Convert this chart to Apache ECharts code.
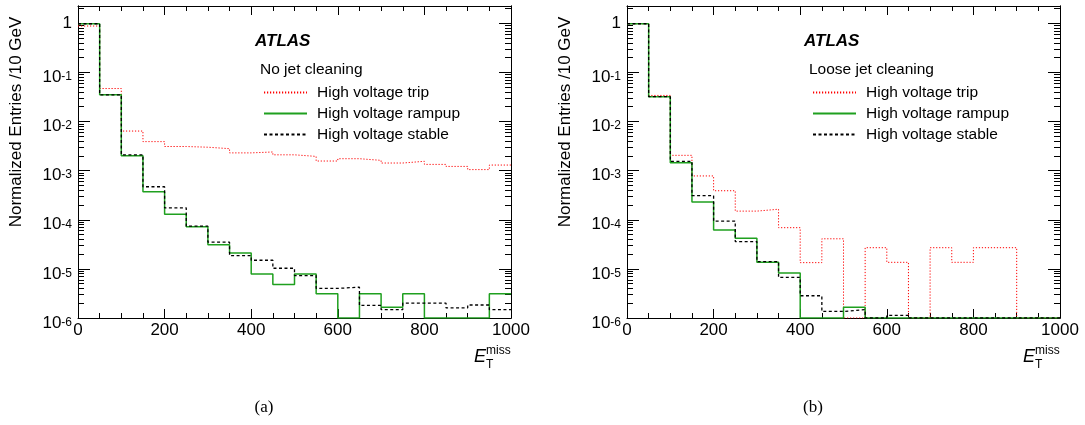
<!DOCTYPE html>
<html>
<head>
<meta charset="utf-8">
<script src="https://cdn.jsdelivr.net/npm/echarts@6/dist/echarts.min.js"></script>
<style>
html,body{margin:0;padding:0;background:#fff;}
#chart{width:1085px;height:425px;}
</style>
</head>
<body>
<div id="chart"></div>
<script>
// ---------------- data ----------------
const binEdges = [0, 50, 100, 150, 200, 250, 300, 350, 400, 450, 500, 550, 600, 650, 700, 750, 800, 850, 900, 950];
const xMax = 1000;
const seriesNames = ['High voltage trip', 'High voltage rampup', 'High voltage stable'];

// (a) No jet cleaning
const tripA = [0.88, 0.047, 0.0064, 0.0039, 0.0031, 0.0030, 0.0028, 0.0023, 0.0024, 0.0021,
               0.00195, 0.00157, 0.00175, 0.00162, 0.00143, 0.00155, 0.00134, 0.00122, 0.00105, 0.0013];
const rampA = [0.98, 0.035, 0.0020, 0.00037, 0.00013, 7.2e-5, 3.1e-5, 2.1e-5, 7.9e-6, 4.8e-6,
               7.9e-6, 3.1e-6, 0, 3.1e-6, 1.65e-6, 3.1e-6, 0, 0, 0, 3.1e-6];
const stableA = [0.98, 0.035, 0.0021, 0.00047, 0.000175, 7.4e-5, 3.5e-5, 1.86e-5, 1.5e-5, 1.03e-5,
                 7.3e-6, 4.0e-6, 4.25e-6, 1.8e-6, 1.48e-6, 2.0e-6, 2.0e-6, 1.6e-6, 1.84e-6, 1.48e-6];

// (b) Loose jet cleaning
const tripB = [0.98, 0.034, 0.00205, 0.00078, 0.00039, 0.00015, 0.000164, 6.9e-5, 1.34e-5, 4.1e-5,
               0, 2.7e-5, 1.36e-5, 0, 2.7e-5, 1.36e-5, 2.7e-5, 2.7e-5, 0, 0];
const rampB = [0.98, 0.032, 0.00145, 0.00023, 6.2e-5, 4.2e-5, 1.37e-5, 8.2e-6, 0, 0,
               1.65e-6, 0, 0, 0, 0, 0, 0, 0, 0, 0];
const stableB = [0.98, 0.032, 0.00155, 0.00031, 9.4e-5, 3.6e-5, 1.41e-5, 6.7e-6, 2.84e-6, 1.36e-6,
                 1.48e-6, 0, 1.13e-6, 0, 0, 0, 0, 0, 0, 0];

const panelLabels = ['No jet cleaning', 'Loose jet cleaning'];
const captions = ['(a)', '(b)'];
const yDecadeExponents = [-6, -5, -4, -3, -2, -1, 0];
const minorMultipliers = [2, 3, 4, 5, 6, 7, 8, 9];
const yMin = 1e-6;
const yMax = 2.25;

// ---------------- styling / layout ----------------
const FONT = "'Liberation Sans', Arial, Helvetica, sans-serif";
const SERIF = "'Liberation Serif', 'Times New Roman', serif";
const grids = [
  {left: 78, top: 6, width: 433, height: 312},
  {left: 627, top: 6, width: 433, height: 312}
];
const lineStyles = [
  {color: '#ff0000', width: 1, type: [1.2, 1.8]},
  {color: '#1fa01f', width: 1.5, type: 'solid'},
  {color: '#000000', width: 1.3, type: [3, 2.5]}
];

const lmin = Math.log10(yMin);
const lmax = Math.log10(yMax);
const majorVals = yDecadeExponents.slice();
const minorVals = [];
yDecadeExponents.forEach(function (e) {
  minorMultipliers.forEach(function (m) {
    const v = e + Math.log10(m);
    if (v <= lmax) minorVals.push(v);
  });
});

function stepData(vals) {
  const pts = binEdges.map(function (e, i) { return [e, Math.max(vals[i], yMin)]; });
  pts.push([xMax, Math.max(vals[vals.length - 1], yMin)]);
  return pts;
}

const black = {color: '#000', width: 1};

const xAxis = [];
const yAxis = [];
const series = [];
const legend = [];
const graphic = [];
const panels = [[tripA, rampA, stableA], [tripB, rampB, stableB]];

grids.forEach(function (g, gi) {
  ['bottom', 'top'].forEach(function (pos) {
    xAxis.push({
      gridIndex: gi, type: 'value', min: 0, max: xMax, interval: 200, position: pos,
      axisLine: {show: true, onZero: false, lineStyle: black},
      axisTick: {show: true, inside: true, length: 9, lineStyle: black},
      minorTick: {show: true, splitNumber: 4, length: 5, lineStyle: black},
      axisLabel: {show: pos === 'bottom', fontSize: 17, color: '#000', fontFamily: FONT, margin: 4,
                  formatter: function (v) { return String(v); }},
      splitLine: {show: false}, minorSplitLine: {show: false}
    });
  });
  // data axis (log scale)
  yAxis.push({gridIndex: gi, type: 'log', logBase: 10, min: yMin, max: yMax, show: false,
              axisLine: {onZero: false}, splitLine: {show: false}});
  ['left', 'right'].forEach(function (pos) {
    [true, false].forEach(function (isMajor) {
      yAxis.push({
        gridIndex: gi, type: 'value', min: lmin, max: lmax, position: pos,
        axisLine: {show: true, onZero: false, lineStyle: black},
        axisTick: {show: true, inside: true, length: isMajor ? 12 : 6,
                   customValues: isMajor ? majorVals : minorVals, lineStyle: black},
        axisLabel: {
          show: isMajor && pos === 'left',
          customValues: majorVals,
          margin: 6, color: '#000', fontFamily: FONT,
          formatter: function (v) {
            const n = Math.round(v);
            if (n === 0) return '{one|1}';
            return '{b|10}{s|' + n + '}';
          },
          rich: {
            one: {fontSize: 17, fontFamily: FONT, color: '#000'},
            b: {fontSize: 17, fontFamily: FONT, color: '#000', lineHeight: 17, padding: [10, 0, 0, 0]},
            s: {fontSize: 12, fontFamily: FONT, color: '#000', lineHeight: 12, verticalAlign: 'top', padding: [7, 0, 0, 0]}
          }
        },
        splitLine: {show: false}
      });
    });
  });
  const yDataIdx = gi * 5;
  panels[gi].forEach(function (vals, si) {
    series.push({
      name: seriesNames[si], type: 'line', xAxisIndex: gi * 2, yAxisIndex: yDataIdx,
      data: stepData(vals), step: 'end', symbol: 'none', showSymbol: false,
      lineStyle: lineStyles[si], itemStyle: {color: lineStyles[si].color},
      z: 2 + si, silent: true, animation: false
    });
  });
  legend.push({
    data: seriesNames, orient: 'vertical', left: g.left + 185, top: 84.5, padding: 0,
    itemWidth: 43, itemHeight: 14, itemGap: 5, selectedMode: false,
    itemStyle: {opacity: 0},
    formatter: function (name) { return '{t|' + name + '}'; },
    textStyle: {
      rich: {t: {fontSize: 15.5, fontFamily: FONT, color: '#000', lineHeight: 14, padding: [0, 0, 0, 5]}}
    }
  });
  // texts
  graphic.push({type: 'text', x: g.left + 177, y: 41,
    style: {text: 'ATLAS', fontSize: 17, fontWeight: 'bold', fontStyle: 'italic', fontFamily: FONT, fill: '#000', verticalAlign: 'middle'}});
  graphic.push({type: 'text', x: g.left + 182, y: 69.5,
    style: {text: panelLabels[gi], fontSize: 15.5, fontFamily: FONT, fill: '#000', verticalAlign: 'middle'}});
  graphic.push({type: 'text', x: g.left - 61.5, y: 122, rotation: Math.PI / 2,
    style: {text: 'Normalized Entries /10 GeV', fontSize: 17, fontFamily: FONT, fill: '#000', align: 'center', verticalAlign: 'middle'}});
  graphic.push({type: 'text', x: g.left + 396, y: 357,
    style: {text: 'E', fontSize: 18, fontStyle: 'italic', fontFamily: FONT, fill: '#000', verticalAlign: 'middle'}});
  graphic.push({type: 'text', x: g.left + 408, y: 350.5,
    style: {text: 'miss', fontSize: 12, fontFamily: FONT, fill: '#000', verticalAlign: 'middle'}});
  graphic.push({type: 'text', x: g.left + 408, y: 364.5,
    style: {text: 'T', fontSize: 12, fontFamily: FONT, fill: '#000', verticalAlign: 'middle'}});
  graphic.push({type: 'text', x: g.left + 186, y: 408,
    style: {text: captions[gi], fontSize: 17, fontFamily: SERIF, fill: '#000', align: 'center', verticalAlign: 'middle'}});
});

const chart = echarts.init(document.getElementById('chart'), null, {renderer: 'canvas'});
chart.setOption({
  backgroundColor: '#ffffff',
  animation: false,
  grid: grids.map(function (g) { return Object.assign({containLabel: false}, g); }),
  xAxis: xAxis,
  yAxis: yAxis,
  legend: legend,
  series: series,
  graphic: graphic
});
</script>
</body>
</html>
